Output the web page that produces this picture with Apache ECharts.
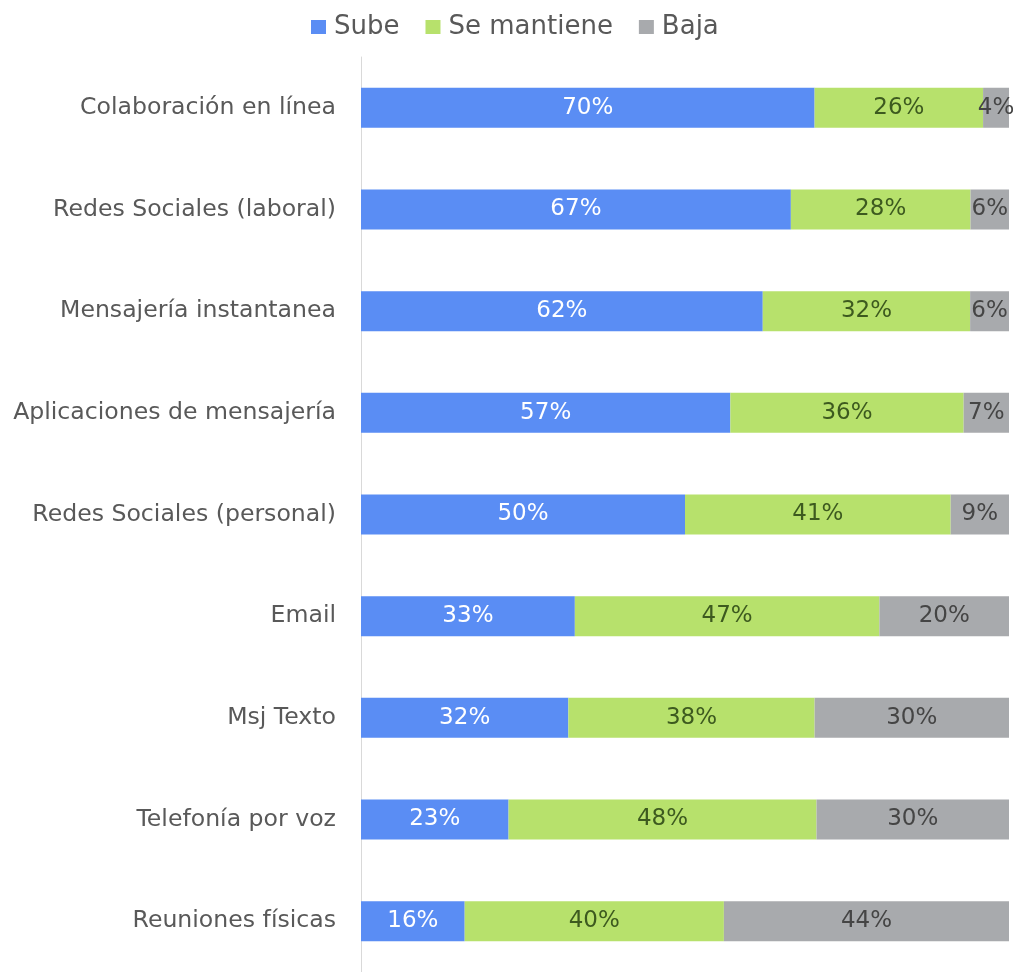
<!DOCTYPE html>
<html>
<head>
<meta charset="utf-8">
<script src="https://cdn.jsdelivr.net/npm/echarts@6/dist/echarts.min.js"></script>
<style>html,body{margin:0;padding:0;background:#fff}#c{width:1013px;height:972px}</style>
</head>
<body>
<div id="c"></div>
<script>
const categories = ['Colaboración en línea','Redes Sociales (laboral)','Mensajería instantanea','Aplicaciones de mensajería','Redes Sociales (personal)','Email','Msj Texto','Telefonía por voz','Reuniones físicas'];
const sube = [70,67,62,57,50,33,32,23,16];
const seMantiene = [26,28,32,36,41,47,38,48,40];
const baja = [4,6,6,7,9,20,30,30,44];

const totals = categories.map((_, i) => sube[i] + seMantiene[i] + baja[i]);
const share = arr => arr.map((v, i) => ({ value: v / totals[i] * 100, raw: v }));

const font = "'DejaVu Sans'";
function mk(name, arr, color, labelColor) {
  return {
    name, type: 'bar', stack: 'all', data: share(arr), barWidth: 40,
    itemStyle: { color },
    label: { show: true, position: 'inside', color: labelColor, fontFamily: font, fontSize: 23,
      formatter: p => p.data.raw + '%' },
    emphasis: { disabled: true }
  };
}
const chart = echarts.init(document.getElementById('c'));
chart.setOption({
  animation: false,
  legend: { top: 9, left: 306, itemWidth: 15, itemHeight: 14, itemGap: 26,
    textStyle: { fontFamily: font, fontSize: 26, color: '#595959', padding: [0, 0, 0, 3] }, icon: 'rect' },
  grid: { left: 361, right: 4, top: 57, bottom: -3, containLabel: false },
  xAxis: { type: 'value', min: 0, max: 100, show: false },
  yAxis: { type: 'category', data: categories, inverse: true,
    axisLine: { show: true, lineStyle: { color: '#d9d9d9', width: 1 } },
    axisTick: { show: false },
    axisLabel: { fontFamily: font, fontSize: 23.6, color: '#595959', margin: 25 } },
  series: [
    mk('Sube', sube, '#5a8df4', '#ffffff'),
    mk('Se mantiene', seMantiene, '#b7e16c', '#3d5a1f'),
    mk('Baja', baja, '#a8aaad', '#454545')
  ]
});
</script>
</body>
</html>
